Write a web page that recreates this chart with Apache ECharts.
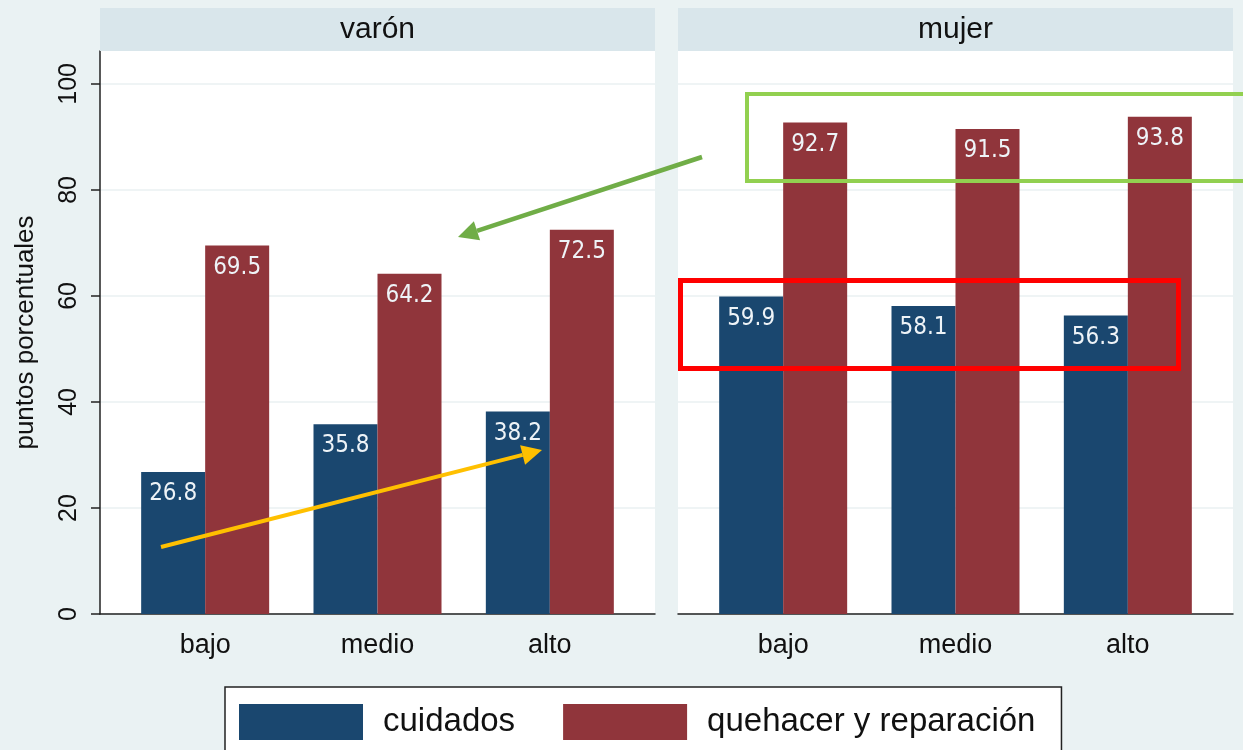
<!DOCTYPE html>
<html lang="es">
<head>
    <meta charset="UTF-8">
    <script src="https://cdn.jsdelivr.net/npm/echarts@6/dist/echarts.min.js"></script>
    <title>cuidados y quehacer</title>
    <style>
        html, body { margin: 0; padding: 0; background: #eaf2f3; }
        #main { width: 1243px; height: 750px; }
    </style>
</head>
<body>
<div id="main"></div>
<script>
    // datos
    let categorias = ['bajo', 'medio', 'alto'];
    let paneles = ['varón', 'mujer'];
    let seriesNames = ['cuidados', 'quehacer y reparación'];
    let varonCuidados = [26.8, 35.8, 38.2];
    let varonQuehacer = [69.5, 64.2, 72.5];
    let mujerCuidados = [59.9, 58.1, 56.3];
    let mujerQuehacer = [92.7, 91.5, 93.8];
    let yTicks = [0, 20, 40, 60, 80, 100];

    let azul = '#1a476f';
    let rojo = '#90353b';
    let font = '"Liberation Sans", Arial, sans-serif';
    let narrow = '"DejaVu Sans Condensed", "Liberation Sans Narrow", "Arial Narrow", ' + font;

    // layout
    let plotTop = 51, plotH = 563, panelW = 555, inset = 19;
    let panelLeft = [100, 678];
    let yMax = 106.2;

    let myChart = echarts.init(document.getElementById('main'));

    let grids = [], xAxes = [], yAxes = [], series = [], graphics = [];

    panelLeft.forEach((left, i) => {
        // marco del panel
        grids.push({ left: left, top: plotTop, width: panelW, height: plotH, show: true, backgroundColor: '#fff', borderWidth: 0 });
        // zona de barras
        grids.push({ left: left + inset, top: plotTop, width: panelW - 2 * inset, height: plotH });

        xAxes.push({
            gridIndex: 2 * i, type: 'category', data: categorias,
            axisLine: { lineStyle: { color: '#222', width: 1.5 } },
            axisTick: { show: false }, axisLabel: { show: false }, splitLine: { show: false }
        });
        xAxes.push({
            gridIndex: 2 * i + 1, type: 'category', data: categorias,
            axisLine: { show: false }, axisTick: { show: false },
            axisLabel: { fontSize: 27, color: '#111', fontFamily: font, margin: 18 }
        });
        yAxes.push({
            gridIndex: 2 * i, type: 'value', min: 0, max: yMax, interval: 20,
            name: i === 0 ? 'puntos porcentuales' : '',
            nameLocation: 'middle', nameGap: 61,
            nameTextStyle: { fontSize: 26, color: '#111', fontFamily: font },
            axisLine: { show: i === 0, lineStyle: { color: '#222', width: 1.5 } },
            axisTick: { show: i === 0, length: 9, customValues: yTicks, lineStyle: { color: '#222', width: 1.5 } },
            axisLabel: { show: i === 0, customValues: yTicks, rotate: 90, fontSize: 25, color: '#111', fontFamily: font, margin: 18 },
            splitLine: { show: true, lineStyle: { color: '#eaf0f2', width: 1.5 } }
        });
        yAxes.push({ gridIndex: 2 * i + 1, type: 'value', min: 0, max: yMax, show: false });

        let vals = i === 0 ? [varonCuidados, varonQuehacer] : [mujerCuidados, mujerQuehacer];
        vals.forEach((d, j) => {
            series.push({
                name: seriesNames[j], type: 'bar',
                xAxisIndex: 2 * i + 1, yAxisIndex: 2 * i + 1,
                data: d, barWidth: 64, barGap: '0%',
                itemStyle: { color: j === 0 ? azul : rojo },
                label: {
                    show: true, position: 'insideTop', distance: 10,
                    color: '#eef3f7', fontSize: 24, fontFamily: narrow,
                    formatter: p => p.value.toFixed(1)
                }
            });
        });

        // tira del título del panel
        graphics.push({
            type: 'rect', shape: { x: left, y: 8, width: panelW, height: plotTop - 8 },
            style: { fill: '#d9e6eb' }, z: 1
        });
        graphics.push({
            type: 'text', x: left + panelW / 2, y: 8 + (plotTop - 8) / 2,
            style: { text: paneles[i], fontSize: 30, fontFamily: font, fill: '#111', align: 'center', verticalAlign: 'middle' }, z: 2
        });
    });

    // anotaciones
    function arrow(x1, y1, x2, y2, color, w, headL, headW) {
        let dx = x2 - x1, dy = y2 - y1, len = Math.sqrt(dx * dx + dy * dy);
        let ux = dx / len, uy = dy / len;
        let bx = x2 - ux * headL, by = y2 - uy * headL;
        graphics.push({ type: 'line', shape: { x1: x1, y1: y1, x2: bx, y2: by }, style: { stroke: color, lineWidth: w }, z: 10 });
        graphics.push({
            type: 'polygon',
            shape: { points: [[x2, y2], [bx - uy * headW, by + ux * headW], [bx + uy * headW, by - ux * headW]] },
            style: { fill: color }, z: 10
        });
    }
    graphics.push({ type: 'rect', shape: { x: 747, y: 94, width: 500, height: 87 }, style: { fill: 'none', stroke: '#92d050', lineWidth: 4 }, z: 10 });
    graphics.push({ type: 'rect', shape: { x: 680.5, y: 280.5, width: 498, height: 88 }, style: { fill: 'none', stroke: '#ff0000', lineWidth: 5 }, z: 10 });
    arrow(702, 157, 458, 237, '#70ad47', 4.5, 20, 10);
    arrow(161, 547, 542, 450, '#ffc000', 4, 20, 10);

    let option = {
        backgroundColor: '#eaf2f3',
        animation: false,
        textStyle: { fontFamily: font },
        grid: grids,
        xAxis: xAxes,
        yAxis: yAxes,
        legend: {
            data: seriesNames, left: 225, top: 687,
            padding: [17, 26, 16, 14],
            backgroundColor: '#fff', borderColor: '#222', borderWidth: 1.5,
            icon: 'rect', itemWidth: 124, itemHeight: 36, itemGap: 48,
            textStyle: { fontSize: 33, color: '#111', fontFamily: font, padding: [0, 0, 0, 15] }
        },
        graphic: graphics,
        series: series
    };

    myChart.setOption(option);
</script>
</body>
</html>
